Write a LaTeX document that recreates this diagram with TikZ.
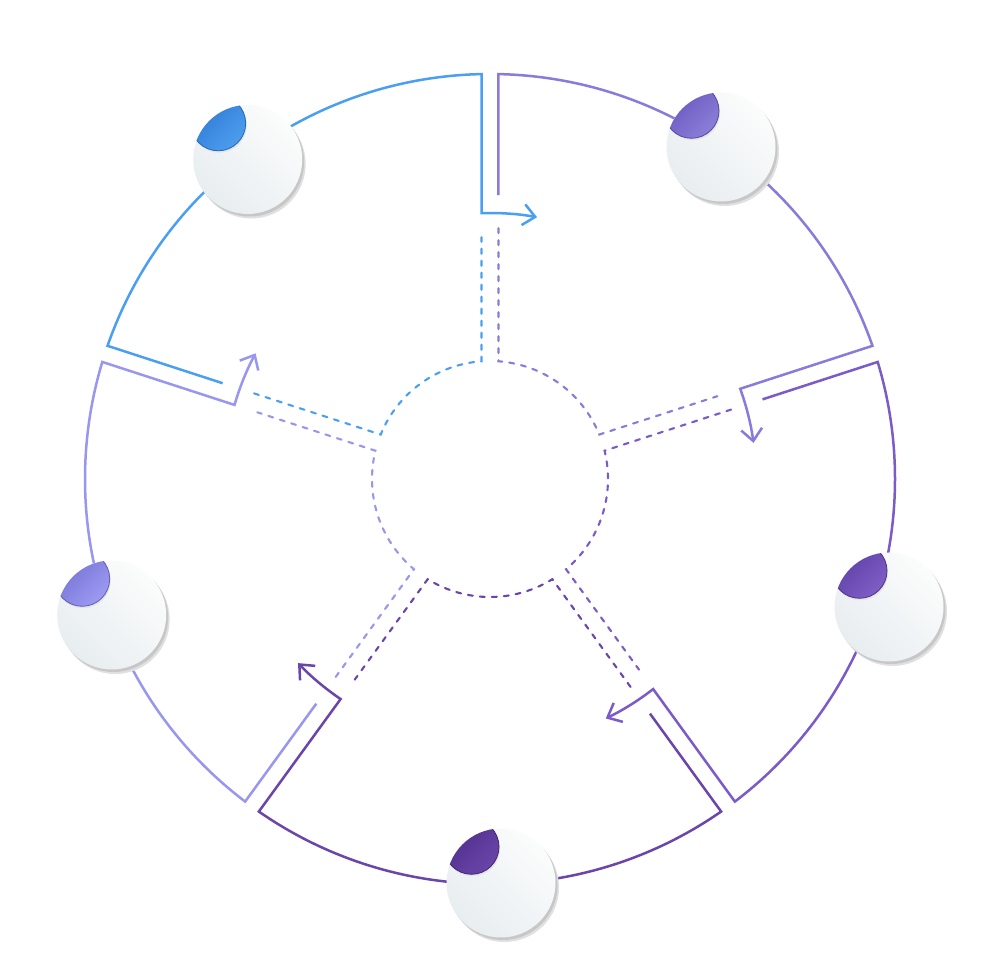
\documentclass[tikz,border=0pt]{standalone}
\usetikzlibrary{arrows.meta}
\definecolor{lE}{HTML}{4A9FF2}
\definecolor{lA}{HTML}{8A7ADB}
\definecolor{lB}{HTML}{7B5BC8}
\definecolor{lC}{HTML}{6A45AA}
\definecolor{lD}{HTML}{9996F0}
\definecolor{kEd}{HTML}{2C78D2}\definecolor{kEl}{HTML}{4C9DEE}
\definecolor{kAd}{HTML}{6653BA}\definecolor{kAl}{HTML}{8B7ED9}
\definecolor{kBd}{HTML}{5A3BA2}\definecolor{kBl}{HTML}{7F5FC6}
\definecolor{kCd}{HTML}{4C2C86}\definecolor{kCl}{HTML}{6A45AA}
\definecolor{kDd}{HTML}{726DD0}\definecolor{kDl}{HTML}{9C9BF2}
\definecolor{bdLight}{HTML}{FBFCFC}
\definecolor{bdDark}{HTML}{E8EDF0}
\newcommand\mysegment[2]{%
  \pgfmathsetmacro\mysegU{#1+72}%
  \begin{scope}[shift={(490,501)}]
  \draw[segline,#2,tipend] (\mysegU-1.71:284pt) -- (\mysegU-1.2:405pt)
     arc[start angle=\mysegU-1.2, end angle=#1+1.2, radius=405pt]
     -- (#1+1.83:266pt)
     arc[start angle=#1+1.83, end angle=#1-10.2, radius=266pt];
  \draw[dashline,#2] (\mysegU-1.94:251pt) -- (\mysegU-4.13:118pt)
     arc[start angle=\mysegU-4.13, end angle=#1+4.13, radius=118pt]
     -- (#1+2.01:242pt);
  \end{scope}}
\newcommand\mybadge[4]{%
  \fill[black!12] (#1+3.5,#2-4.5) circle[radius=54.5pt];
  \fill[black!22] (#1+2,#2-2.5) circle[radius=54.5pt];
  \shade[top color=bdLight, bottom color=bdDark, shading angle=-45] (#1,#2) circle[radius=54.5pt];
  \begin{scope}
    \clip (#1,#2) circle[radius=54.5pt];
    \fill[black!10] (#1-28.5,#2+34.2) circle[radius=27.5pt];
    \shade[top color=#3, bottom color=#4, shading angle=45] (#1-29.5,#2+36.2) circle[radius=27.5pt];
    \draw[#3!85!black, line width=0.8pt] (#1-29.5,#2+36.2) circle[radius=27.5pt];
  \end{scope}}
\begin{document}
\begin{tikzpicture}[x=1pt,y=1pt,
  segline/.style={line width=2.5pt, line join=miter},
  dashline/.style={line width=2.1pt, dash pattern=on 5pt off 7pt, line cap=round},
  tipend/.style={-{Straight Barb[length=12pt,width=21pt]}}]
\useasboundingbox (0,0) rectangle (980,980);
\fill[white] (0,0) rectangle (980,980);
\mysegment{90}{lE}
\mysegment{18}{lA}
\mysegment{-54}{lB}
\mysegment{-126}{lC}
\mysegment{162}{lD}
\mybadge{247.7}{820.5}{kEd}{kEl}
\mybadge{721}{833}{kAd}{kAl}
\mybadge{889}{373}{kBd}{kBl}
\mybadge{501}{97}{kCd}{kCl}
\mybadge{111.7}{365}{kDd}{kDl}
\end{tikzpicture}
\end{document}
